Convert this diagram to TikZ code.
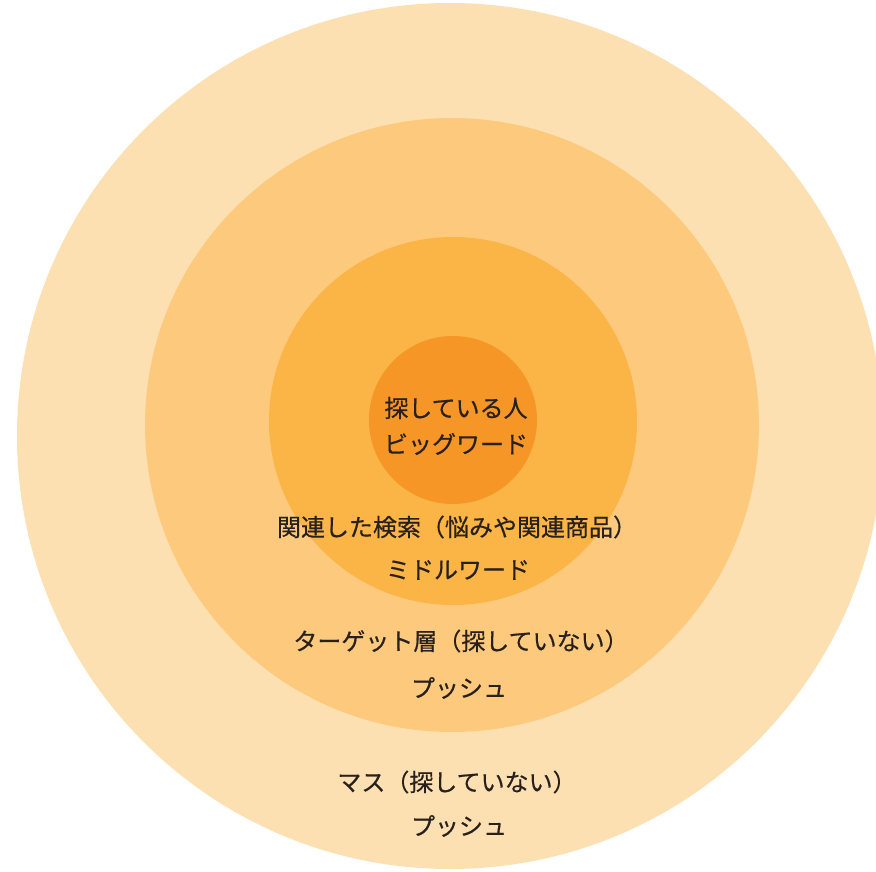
\documentclass[tikz,border=0pt]{standalone}
\usepackage{fontspec}
\newfontfamily\jpfont[FakeBold=0.5]{Noto Sans CJK JP}
\definecolor{ringA}{RGB}{253,224,178}
\definecolor{ringB}{RGB}{253,202,125}
\definecolor{ringC}{RGB}{251,180,70}
\definecolor{ringD}{RGB}{246,150,38}
\definecolor{txt}{RGB}{40,32,28}
\begin{document}
\begin{tikzpicture}[x=1pt,y=-1pt,
  lbl/.style={text=txt,font=\jpfont\fontsize{24}{28}\selectfont,inner sep=0pt,anchor=center}]
\useasboundingbox (0,0) rectangle (876,872);
\fill[white] (0,0) rectangle (876,872);
\begin{scope}
\clip (0,0) rectangle (876,872);
\fill[ringA] (450,436) circle (433);
\end{scope}
\fill[ringB] (452,425) circle (307);
\fill[ringC] (453,421) circle (184);
\fill[ringD] (453,420) circle (84);
\node[lbl] (t1) at (456,408) {探している人};
\node[lbl] (t2) at (456,444) {ビッグワード};
\node[lbl] (t3) at (457,527) {関連した検索（悩みや関連商品）};
\node[lbl] (t4) at (458,570) {ミドルワード};
\node[lbl] (t5) at (461,641) {ターゲット層（探していない）};
\node[lbl] (t6) at (459,688) {プッシュ};
\node[lbl] (t7) at (457,782) {マス（探していない）};
\node[lbl] (t8) at (459,826) {プッシュ};
\end{tikzpicture}
\end{document}
